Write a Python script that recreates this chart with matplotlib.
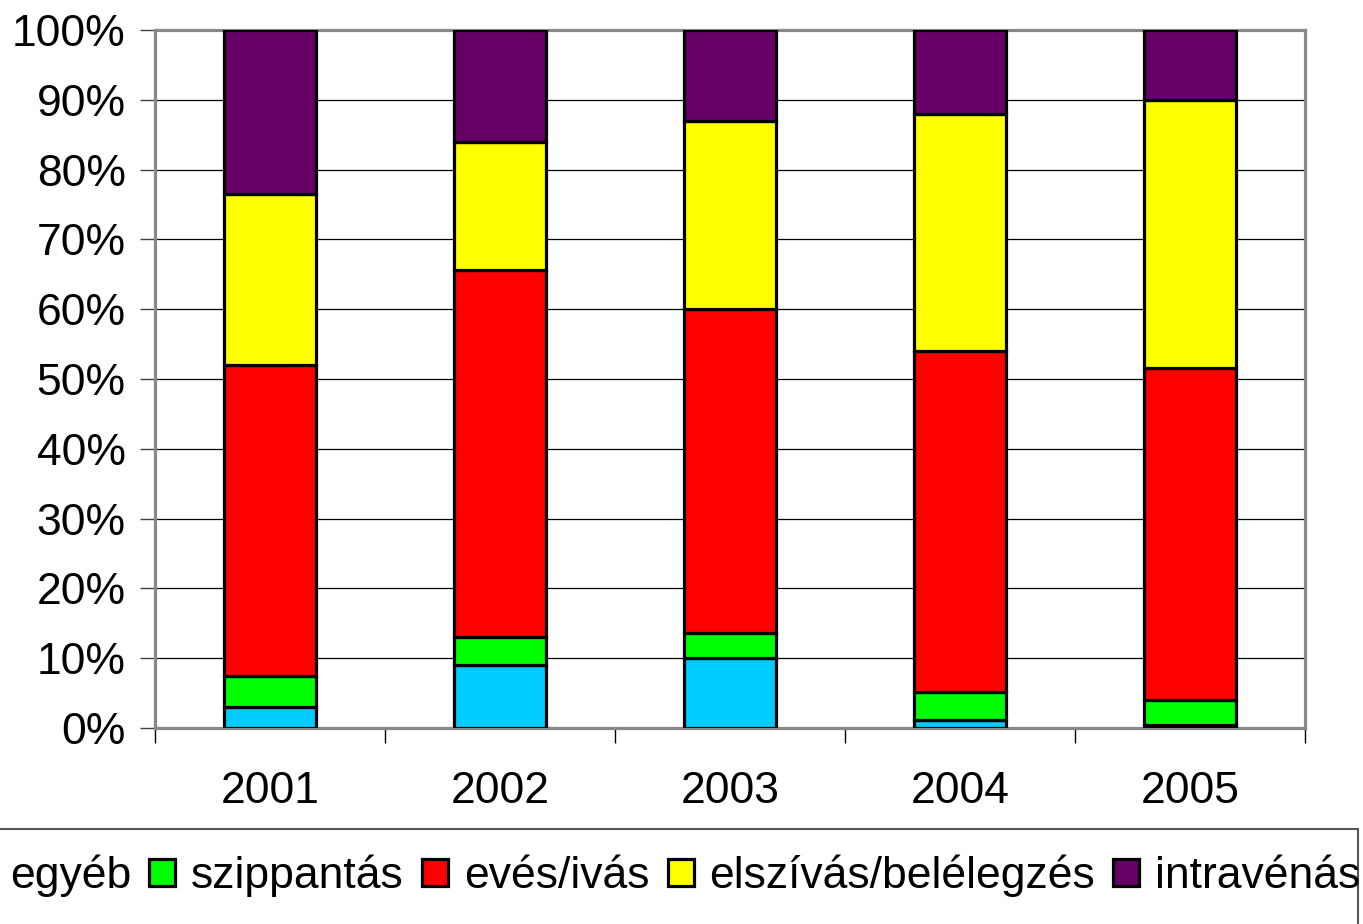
import matplotlib
matplotlib.use("Agg")
import matplotlib.pyplot as plt
import numpy as np
from matplotlib.ticker import FixedLocator
from matplotlib.patches import Rectangle

years = ["2001", "2002", "2003", "2004", "2005"]
series_names = ["egyéb", "szippantás", "evés/ivás", "elszívás/belélegzés", "intravénás"]
egyeb = [3.0, 9.0, 10.0, 1.1, 0.5]
szippantas = [4.5, 4.0, 3.6, 4.1, 3.5]
eves_ivas = [44.5, 52.6, 46.4, 48.8, 47.6]
elszivas = [24.5, 18.4, 27.0, 34.0, 38.4]
intravenas = [23.5, 16.0, 13.0, 12.0, 10.0]
colors = ["#00CCFF", "#00FF00", "#FF0000", "#FFFF00", "#660066"]

plt.rcParams['font.family'] = ['Liberation Sans', 'DejaVu Sans']

W, H = 1363, 924
fig = plt.figure(figsize=(W/100, H/100), dpi=100)
ax = fig.add_axes([155/W, 1-728/H, (1305-155)/W, (728-30)/H])

data = [egyeb, szippantas, eves_ivas, elszivas, intravenas]
x = np.arange(len(years))
bottom = np.zeros(len(years))
handles = []
for name, vals, c in zip(series_names, data, colors):
    v = np.array(vals)
    b = ax.bar(x, v, 0.4, bottom=bottom, color=c, edgecolor='black', linewidth=2.3,
               label=name, zorder=3)
    handles.append(b)
    bottom += v

ax.set_xlim(-0.5, len(years)-0.5)
ax.set_ylim(0, 100)
ax.set_yticks(np.arange(0, 101, 10))
ax.set_yticklabels([f"{v}%" for v in range(0, 101, 10)], fontsize=32)
ax.yaxis.grid(True, color='black', linewidth=0.9, zorder=0)
ax.set_axisbelow(True)

ax.set_xticks(x)
ax.set_xticklabels(years, fontsize=32)
ax.tick_params(axis='x', which='major', length=0, pad=31)
ax.xaxis.set_minor_locator(FixedLocator(np.arange(-0.5, len(years), 1.0)))
ax.tick_params(axis='x', which='minor', length=11, width=1, color='black')
ax.tick_params(axis='y', length=11, width=1, color='#404040', pad=10)

for s in ['left', 'top', 'right', 'bottom']:
    ax.spines[s].set_color('#888888')
    ax.spines[s].set_linewidth(2.3)

# legend frame (drawn separately; text overflows it in the original)
fig.patches.append(Rectangle((-5/W, -20/H), (1358+5)/W, (924-829+20)/H,
                             transform=fig.transFigure, fill=False,
                             edgecolor='#555555', linewidth=1.5))

leg = fig.legend(handles=handles, labels=series_names, loc='center left',
                 bbox_to_anchor=(-32/W, 1-876/H), ncol=5, fontsize=32,
                 frameon=False, handlelength=0.585, handleheight=0.585,
                 handletextpad=0.36, columnspacing=0.405, borderpad=0,
                 borderaxespad=0)

fig.savefig("out.png", dpi=100)
